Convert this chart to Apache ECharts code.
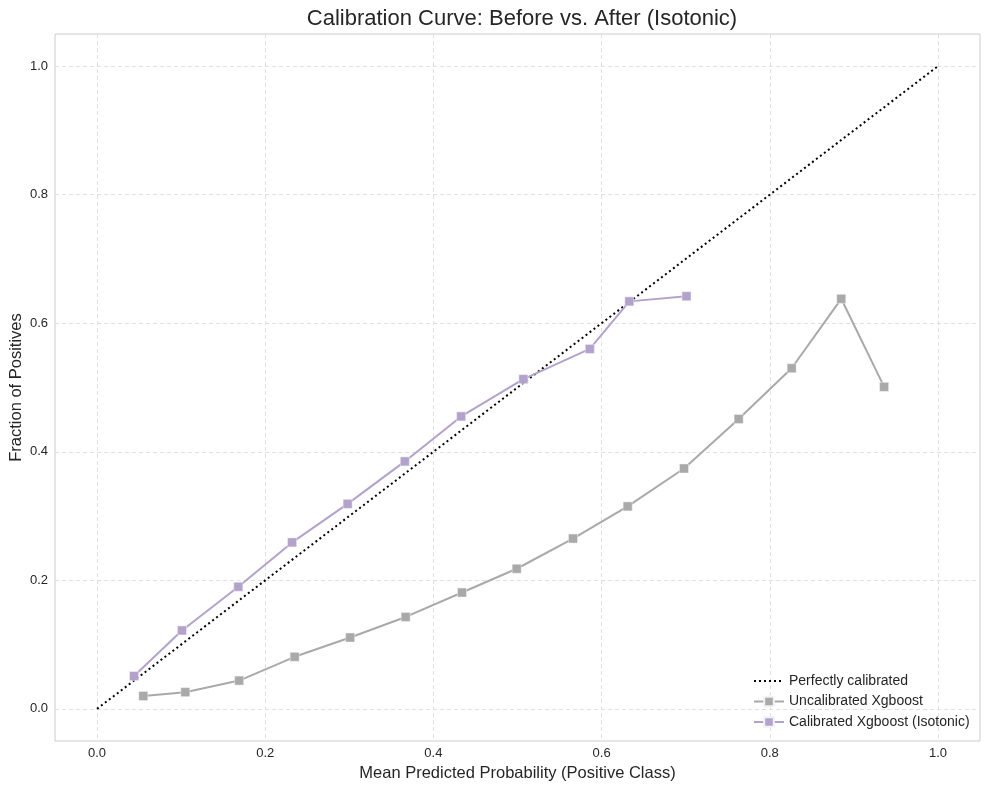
<!DOCTYPE html>
<html>
<head>
<meta charset="utf-8">
<script src="https://cdn.jsdelivr.net/npm/echarts@6/dist/echarts.min.js"></script>
<style>
html,body{margin:0;padding:0;background:#fff;}
#chart{width:989px;height:790px;}
</style>
</head>
<body>
<div id="chart"></div>
<script>
const titleText = 'Calibration Curve: Before vs. After (Isotonic)';
const xAxisName = 'Mean Predicted Probability (Positive Class)';
const yAxisName = 'Fraction of Positives';
const tickValues = [0, 0.2, 0.4, 0.6, 0.8, 1.0];
const perfectX = [0, 1];
const perfectY = [0, 1];
const uncalX = [0.055, 0.105, 0.169, 0.235, 0.301, 0.367, 0.434, 0.499, 0.566, 0.631, 0.698, 0.763, 0.826, 0.885, 0.936];
const uncalY = [0.020, 0.026, 0.044, 0.081, 0.111, 0.143, 0.181, 0.218, 0.265, 0.315, 0.374, 0.451, 0.530, 0.638, 0.501];
const calX = [0.044, 0.101, 0.168, 0.232, 0.298, 0.366, 0.433, 0.507, 0.586, 0.633, 0.701];
const calY = [0.051, 0.122, 0.190, 0.259, 0.319, 0.385, 0.455, 0.513, 0.560, 0.634, 0.642];
const seriesNames = ['Perfectly calibrated', 'Uncalibrated Xgboost', 'Calibrated Xgboost (Isotonic)'];

const zip = (xs, ys) => xs.map((x, i) => [x, ys[i]]);
const font = '"Liberation Sans", Arial, sans-serif';
const textColor = '#262626';

const axisCommon = {
  type: 'value', min: -0.05, max: 1.05,
  axisLine: { show: false },
  axisTick: { show: false, customValues: tickValues },
  axisLabel: { customValues: tickValues, color: textColor, fontSize: 13, fontFamily: font,
    formatter: v => v.toFixed(1) },
  splitLine: { show: true, lineStyle: { color: '#e0e0e0', type: [4, 3], width: 1 } },
  nameLocation: 'middle',
  nameMoveOverlap: false,
  nameTextStyle: { color: textColor, fontSize: 16.5, fontFamily: font }
};

const chart = echarts.init(document.getElementById('chart'));
chart.setOption({
  animation: false,
  backgroundColor: '#ffffff',
  title: {
    text: titleText, left: 517, textAlign: 'center', top: 3,
    textStyle: { color: textColor, fontSize: 22, fontWeight: 'normal', fontFamily: font }
  },
  grid: { left: 55, right: 9, top: 34, bottom: 49, show: true, borderColor: '#cccccc', borderWidth: 1,
    containLabel: false, outerBoundsMode: 'none' },
  xAxis: Object.assign({}, axisCommon, { name: xAxisName, nameGap: 24,
    axisLabel: Object.assign({}, axisCommon.axisLabel, { margin: 6 }) }),
  yAxis: Object.assign({}, axisCommon, { name: yAxisName, nameGap: 30,
    axisLabel: Object.assign({}, axisCommon.axisLabel, { margin: 7 }) }),
  legend: {
    orient: 'vertical', left: 748, top: 669, itemGap: 6.5, itemWidth: 30, itemHeight: 12,
    textStyle: { color: textColor, fontSize: 14, fontFamily: font },
    data: [
      { name: seriesNames[0], itemStyle: { color: 'rgba(0,0,0,0)', borderWidth: 0 } },
      seriesNames[1],
      seriesNames[2]
    ]
  },
  series: [
    { name: seriesNames[0], type: 'line', data: zip(perfectX, perfectY), symbol: 'none',
      lineStyle: { color: '#000', type: [2, 3], width: 2 }, itemStyle: { color: '#000' }, z: 2 },
    { name: seriesNames[1], type: 'line', data: zip(uncalX, uncalY), symbol: 'rect', symbolSize: 9,
      lineStyle: { color: '#a9a9a9', width: 2 }, itemStyle: { color: '#a9a9a9', borderColor: '#f2f2f2', borderWidth: 0.5 }, z: 3 },
    { name: seriesNames[2], type: 'line', data: zip(calX, calY), symbol: 'rect', symbolSize: 9,
      lineStyle: { color: '#b3a2cc', width: 2 }, itemStyle: { color: '#b3a2cc', borderColor: '#f2f2f2', borderWidth: 0.5 }, z: 4 }
  ]
});
</script>
</body>
</html>
